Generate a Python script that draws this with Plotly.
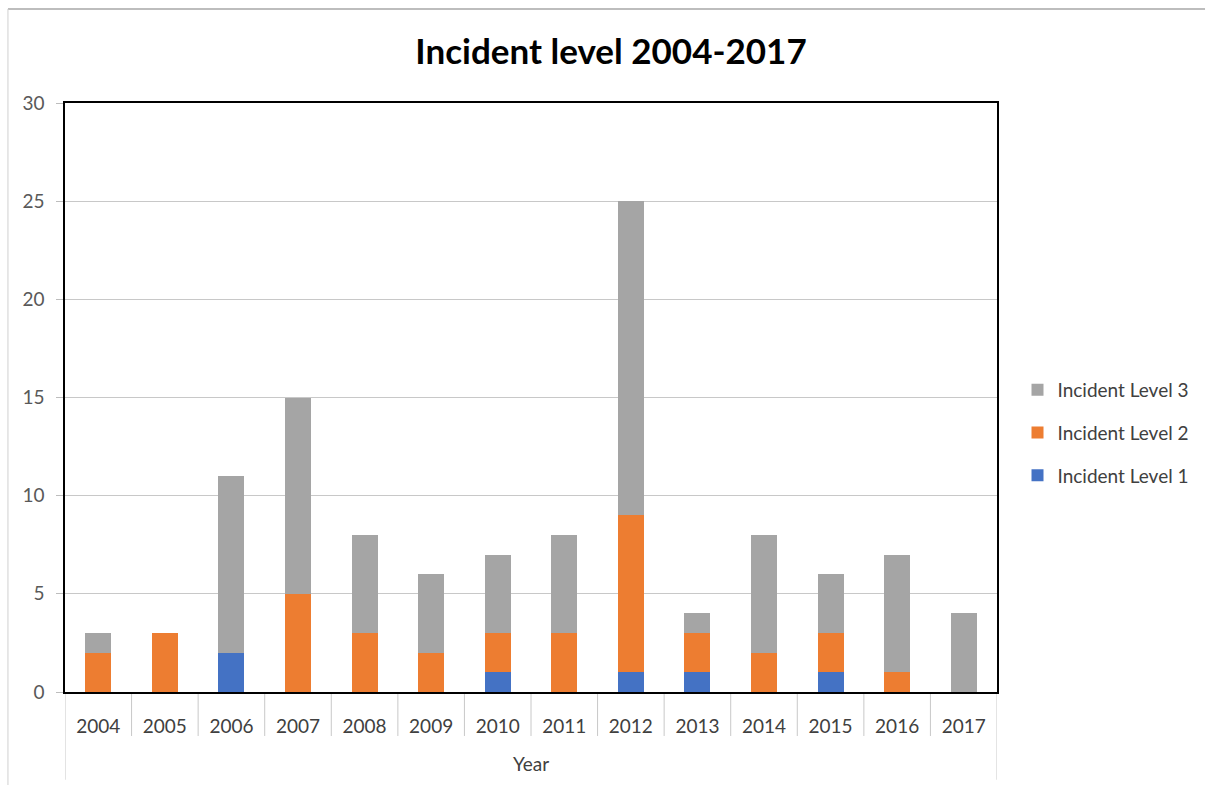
import plotly.graph_objects as go

years = ["2004", "2005", "2006", "2007", "2008", "2009", "2010",
         "2011", "2012", "2013", "2014", "2015", "2016", "2017"]
level1 = [0, 0, 2, 0, 0, 0, 1, 0, 1, 1, 0, 1, 0, 0]
level2 = [2, 3, 0, 5, 3, 2, 2, 3, 8, 2, 2, 2, 1, 0]
level3 = [1, 0, 9, 10, 5, 4, 4, 5, 16, 1, 6, 3, 6, 4]
y_ticks = [0, 5, 10, 15, 20, 25, 30]

# (name, values, colour, position in legend)
series = [
    ("Incident Level 1", level1, "#4472C4", 3),
    ("Incident Level 2", level2, "#ED7D31", 2),
    ("Incident Level 3", level3, "#A5A5A5", 1),
]

FONT = "Lato"
TEXT = "#404040"

fig = go.Figure()
for name, vals, color, rank in series:
    fig.add_trace(go.Bar(
        x=years, y=vals, name=name, legendgroup=name, legendrank=rank,
        marker=dict(color=color, line=dict(width=0)),
        hoverinfo="x+y+name",
    ))

# category cell dividers under the x axis
shapes = []
n = len(years)
for i in range(n + 1):
    bottom = -0.149 if i in (0, n) else -0.0747
    shapes.append(dict(type="line", xref="x", yref="paper",
                       x0=i - 0.5, x1=i - 0.5, y0=0, y1=bottom,
                       line=dict(color="#c8c8c8", width=1), layer="below"))

# outer chart frame (top and left edges)
shapes.append(dict(type="line", xref="paper", yref="paper",
                   x0=-0.0612, x1=1.2232, y0=1.1596, y1=1.1596,
                   line=dict(color="#bdbdbd", width=2)))
shapes.append(dict(type="line", xref="paper", yref="paper",
                   x0=-0.0612, x1=-0.0612, y0=1.1596, y1=-0.16,
                   line=dict(color="#d0d0d0", width=1)))

fig.update_layout(
    width=1209, height=785,
    margin=dict(l=65, r=212, t=103, b=93),
    paper_bgcolor="white", plot_bgcolor="white",
    barmode="stack", bargap=0.61,
    title=dict(text="<b>Incident level 2004-2017</b>", x=611 / 1209,
               xref="container", xanchor="center",
               y=1 - 52 / 785, yref="container", yanchor="middle",
               font=dict(family=FONT, size=35, color="black")),
    font=dict(family=FONT, size=19, color=TEXT),
    legend=dict(x=1.022, xanchor="left", y=0.545, yanchor="top",
                traceorder="grouped", tracegroupgap=15,
                font=dict(family=FONT, size=19, color=TEXT),
                bgcolor="rgba(0,0,0,0)"),
    xaxis=dict(
        type="category", categoryorder="array", categoryarray=years,
        range=[-0.5, n - 0.5],
        showline=True, mirror=True, linecolor="black", linewidth=1.5,
        showgrid=False, ticks="", ticklabelstandoff=16,
        tickfont=dict(family=FONT, size=19, color=TEXT),
        title=dict(text="Year", standoff=22,
                   font=dict(family=FONT, size=19, color=TEXT)),
    ),
    yaxis=dict(
        range=[0, 30], tickvals=y_ticks,
        showline=True, mirror=True, linecolor="black", linewidth=1.5,
        showgrid=True, gridcolor="#c8c8c8", gridwidth=1,
        zeroline=False,
        ticks="outside", ticklen=7, tickcolor="#bdbdbd", tickwidth=1,
        ticklabelstandoff=8,
        tickfont=dict(family=FONT, size=19, color="#595959"),
    ),
    shapes=shapes,
)

fig.write_html("out.html")
